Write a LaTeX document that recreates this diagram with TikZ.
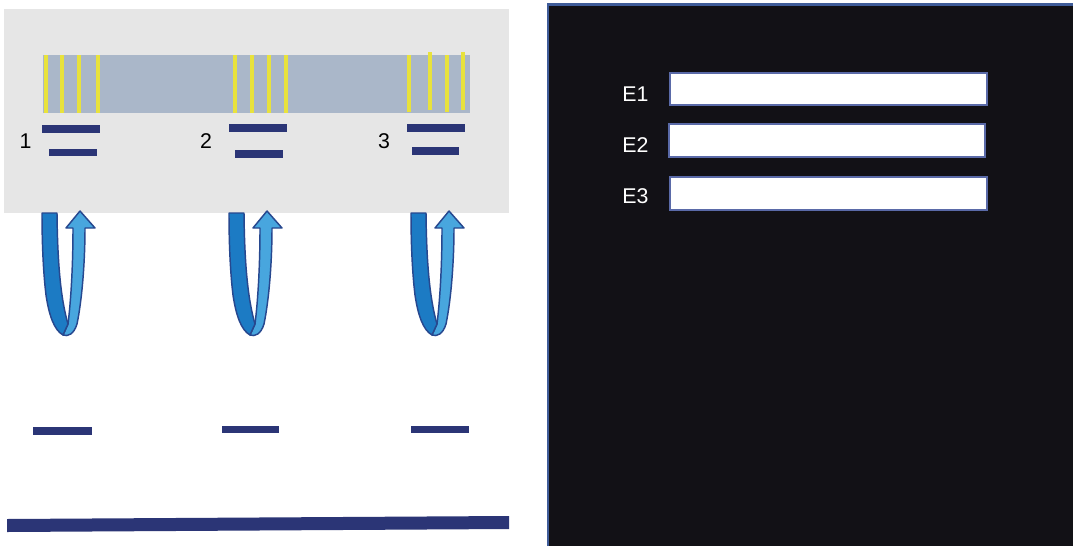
\documentclass[tikz,border=0pt]{standalone}
\usepackage{fontspec}
\setmainfont{Liberation Sans}
\definecolor{panelgray}{HTML}{E6E6E6}
\definecolor{bandblue}{HTML}{AAB7C9}
\definecolor{stripe}{HTML}{E8E23C}
\definecolor{barblue}{HTML}{2B3576}
\definecolor{darkbg}{HTML}{121116}
\definecolor{edgeblue}{HTML}{3F5C99}
\definecolor{ribdark}{HTML}{1C7BC4}
\definecolor{riblight}{HTML}{48A6DE}
\definecolor{ribline}{HTML}{27488F}
\definecolor{boxedge}{HTML}{5A6AA8}
\tikzset{
  stripeline/.style={draw=stripe, line width=2.3pt},
  barline/.style={draw=barblue, line width=5.5pt},
  num/.style={font=\fontsize{16pt}{18pt}\selectfont, text=black, inner sep=0pt},
  elabel/.style={font=\fontsize{16pt}{18pt}\selectfont, text=white, inner sep=0pt},
  ebox/.style={draw=boxedge, fill=white, line width=1.8pt},
  ribA/.style={fill=ribdark, draw=ribline, line width=1.1pt, line join=round},
  ribB/.style={fill=riblight, draw=ribline, line width=1.1pt, line join=round},
}
\newcommand{\uribbon}[1]{%
  \begin{scope}[shift={(#1,0)}]
    \path[ribB] (63,335) .. controls (68,337) and (74,334) .. (77,324)
      .. controls (82,300) and (85,262) .. (85,228) -- (95,228) -- (80,211) -- (66,228) -- (73,228)
      .. controls (73,265) and (71,300) .. (68,324) -- cycle;
    \path[ribA] (42,213) -- (57,213) .. controls (57.5,265) and (61,300) .. (68,324)
      -- (63,335) .. controls (54,330) and (49,315) .. (46,295)
      .. controls (43,270) and (42,240) .. (42,213) -- cycle;
  \end{scope}}
\begin{document}
\begin{tikzpicture}[x=0.75pt,y=-0.75pt]
\useasboundingbox (0,0) rectangle (1073,546);
\fill[white] (0,0) rectangle (1073,546);
% left grey panel
\fill[panelgray] (4,9) rectangle (509,213);
\fill[bandblue] (43,55) rectangle (470,113);
\foreach \x in {46,62,79,98,235,252,269,286}
  \draw[stripeline] (\x,55) -- (\x,113);
\foreach \x/\a/\b in {409/55/112,430/52/110,447/55/112,463/52/110}
  \draw[stripeline] (\x,\a) -- (\x,\b);
% bars under band
\draw[barline] (42,129) -- (100,129);
\draw[barline] (49,152.5) -- (97,152.5);
\draw[barline] (229,128) -- (287,128);
\draw[barline] (235,154) -- (283,154);
\draw[barline] (407,128) -- (465,128);
\draw[barline] (412,151) -- (459,151);
\node[num] (n1) at (25.5,141) {1};
\node[num] (n2) at (206,141) {2};
\node[num] (n3) at (384,141) {3};
% ribbons
\uribbon{0}
\uribbon{187}
\uribbon{369}
% lower bars
\draw[barline] (33,431) -- (92,431);
\draw[barline] (222,429.5) -- (279,429.5);
\draw[barline] (411,429.5) -- (469,429.5);
\fill[barblue] (7,519) -- (509,516) -- (509,529) -- (7,532) -- cycle;
% right dark panel
\fill[darkbg] (547,4) rectangle (1073,546);
\draw[edgeblue, line width=1.8pt] (548,546) -- (548,4.5) -- (1073,4.5);
\draw[ebox] (670,73) rectangle (987,105);
\draw[ebox] (669,124) rectangle (985,157);
\draw[ebox] (670,177) rectangle (987,210);
\node[elabel, anchor=west] (e1) at (622,94) {E1};
\node[elabel, anchor=west] (e2) at (622,145) {E2};
\node[elabel, anchor=west] (e3) at (622,196) {E3};
\end{tikzpicture}
\end{document}
